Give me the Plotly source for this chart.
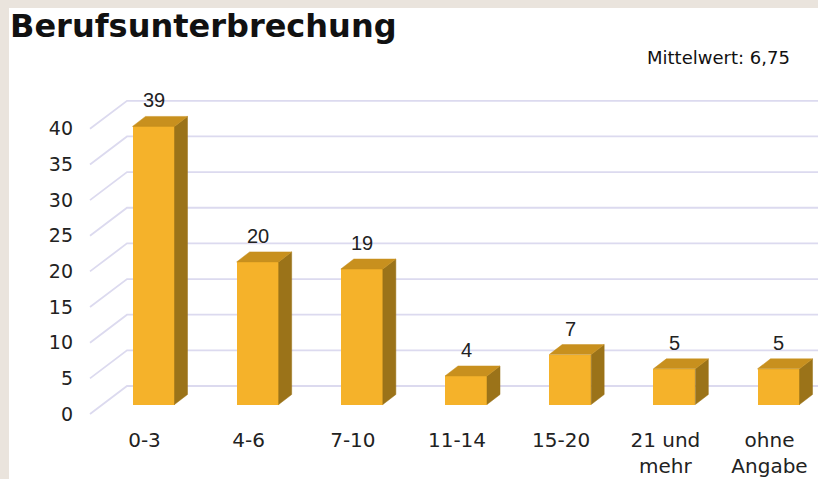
import plotly.graph_objects as go

# ---------------- data ----------------
categories = ["0-3", "4-6", "7-10", "11-14", "15-20", "21 und mehr", "ohne Angabe"]
tick_labels = ["0-3", "4-6", "7-10", "11-14", "15-20", "21 und<br>mehr", "ohne<br>Angabe"]
values = [39, 20, 19, 4, 7, 5, 5]
y_ticks = [0, 5, 10, 15, 20, 25, 30, 35, 40]
title_text = "Berufsunterbrechung"
mean_text = "Mittelwert: 6,75"

# ---------------- layout constants (pixels) ----------------
W, H = 818, 479
L, R, T, B = 80, 0, 80, 59
X0, SX = 153.5, 104.17     # pixel of first bar centre, pixels per category
Y0, SY = 404.5, 7.13       # pixel of value 0 at bar front, pixels per unit
x_range = [(L - X0) / SX, (W - R - X0) / SX]
y_range = [(Y0 - (H - B)) / SY, (Y0 - T) / SY]

bar_w = 42 / SX
bdx, bdy = 13 / SX, 10 / SY            # bar depth
fdx, fdy = -12.3 / SX, -9.5 / SY       # front floor plane rel. to bar front
kdx, kdy = 24.7 / SX, 18.5 / SY        # back wall rel. to bar front
grid_left = (90 - X0) / SX
lab_dx = -9 / SX

FRONT = "#F5B22A"
TOP = "#C8901E"
SIDE = "#9B7319"
GRID = "#DCDAEF"
BEIGE = "#EAE4DD"

fig = go.Figure()

# white card over beige background
fig.add_shape(type="rect", xref="paper", yref="paper", layer="below",
              x0=(9 - L) / (W - L - R), x1=1.05, y0=-0.3, y1=(H - B - 8) / (H - T - B),
              fillcolor="white", line=dict(width=0))

# back wall gridlines with diagonal floor/side part (drawn below the bars)
for k in y_ticks:
    fig.add_shape(type="path", xref="x", yref="y", layer="below",
                  path="M {a},{b} L {c},{d} L {e},{d}".format(
                      a=grid_left, b=k + fdy, c=grid_left + (kdx - fdx), d=k + kdy, e=x_range[1]),
                  line=dict(color=GRID, width=1.8))

n = len(values)
xs = list(range(n))

# front faces
fig.add_trace(go.Bar(x=xs, y=values, width=bar_w, marker=dict(color=FRONT, line=dict(width=0)),
                     showlegend=False, hoverinfo="skip"))

# side and top faces
sx, sy = [], []
tx, ty = [], []
for i, v in zip(xs, values):
    x1 = i + bar_w / 2
    x0 = i - bar_w / 2
    sx += [x1, x1 + bdx, x1 + bdx, x1, x1, None]
    sy += [0, bdy, v + bdy, v, 0, None]
    tx += [x0, x0 + bdx, x1 + bdx, x1, x0, None]
    ty += [v, v + bdy, v + bdy, v, v, None]
fig.add_trace(go.Scatter(x=sx, y=sy, mode="lines", fill="toself", fillcolor=SIDE,
                         line=dict(color=SIDE, width=0.5), hoverinfo="skip", showlegend=False))
fig.add_trace(go.Scatter(x=tx, y=ty, mode="lines", fill="toself", fillcolor=TOP,
                         line=dict(color=TOP, width=0.5), hoverinfo="skip", showlegend=False))

# value labels
for i, v in zip(xs, values):
    fig.add_annotation(x=i, y=v + bdy, text=str(v), showarrow=False, yanchor="bottom", yshift=3,
                       font=dict(family="Liberation Sans", size=20, color="#222222"))

# mean annotation
fig.add_annotation(xref="paper", yref="paper", x=(792 - L) / (W - L - R), y=(H - B - 57) / (H - T - B),
                   xanchor="right", yanchor="middle", text=mean_text, showarrow=False,
                   font=dict(family="DejaVu Sans", size=18, color="#111111"))

fig.update_layout(
    width=W, height=H,
    margin=dict(l=L, r=R, t=T, b=B, pad=0),
    paper_bgcolor=BEIGE, plot_bgcolor="white",
    title=dict(text="<b>" + title_text + "</b>", x=10 / W, xanchor="left", xref="container",
               y=1 - 26 / H, yanchor="middle", yref="container",
               font=dict(family="DejaVu Sans", size=32, color="#111111")),
    xaxis=dict(range=x_range, tickvals=[i + lab_dx for i in xs], ticktext=tick_labels,
               showgrid=False, zeroline=False, showline=False, ticks="", ticklabelstandoff=6,
               tickfont=dict(family="DejaVu Sans", size=20, color="#222222")),
    yaxis=dict(range=y_range, tickvals=[k + fdy for k in y_ticks], ticktext=[str(k) for k in y_ticks],
               showgrid=False, zeroline=False, showline=False, ticks="", ticklabelstandoff=6,
               tickfont=dict(family="DejaVu Sans", size=19, color="#222222")),
    bargap=0,
)

fig.write_html("out.html", config={"displayModeBar": False, "staticPlot": True},
               post_script="document.body.style.margin='0px';document.body.style.background='" + BEIGE + "';")
